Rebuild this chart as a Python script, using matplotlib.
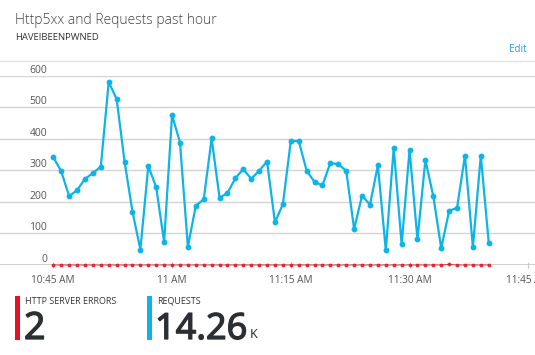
import matplotlib
matplotlib.use("Agg")
import matplotlib.pyplot as plt
import matplotlib.patheffects as pe
import numpy as np

plt.rcParams['font.family'] = ['Open Sans', 'DejaVu Sans']

# requests per minute, 10:45 AM .. 11:40 AM
requests = [342, 297, 218, 237, 273, 291, 312, 580, 526, 328,
            169, 49, 314, 246, 73, 476, 388, 58, 188, 208,
            401, 213, 228, 275, 304, 273, 299, 328, 135, 193,
            393, 393, 299, 263, 253, 324, 319, 299, 114, 220,
            191, 316, 47, 371, 65, 365, 81, 333, 218, 53,
            172, 181, 347, 56, 347, 71]
errors = [0] * 56
errors[50] = 2
minutes = np.arange(len(requests))

tick_minutes = [0, 15, 30, 45, 60]
tick_labels = ["10:45 AM", "11 AM", "11:15 AM", "11:30 AM", "11:45 AM"]
y_ticks = [0, 100, 200, 300, 400, 500, 600]

total_errors = "2"
total_requests = "14.26"

BLUE = "#0db4e8"
RED = "#e81123"
GRID = "#d4d4d4"
TXT = "#555555"

W, H = 535, 355
fig = plt.figure(figsize=(W / 100, H / 100), dpi=100)

# pixel helpers
def fx(px):
    return px / W

def fy(py):
    return 1 - py / H

ax = fig.add_axes([0, fy(265), 1, fy(75.7) - fy(265)])
px_per_min = (528.3 - 53.3) / 60
ax.set_xlim(-53.3 / px_per_min, (W - 53.3) / px_per_min)
ax.set_ylim(0, 600)
for s in ax.spines.values():
    s.set_visible(False)

# gridlines with the value label sitting just above each line
for v in y_ticks:
    ax.axhline(v, color="#c8c8c8" if v == 0 else GRID, lw=1.2 if v == 0 else 1, zorder=0)
    ax.text(fx(47), v, str(v), transform=ax.get_yaxis_transform(),
            ha="right", va="bottom", fontsize=7.5, color=TXT)

ax.set_yticks([])
ax.set_xticks(tick_minutes)
ax.set_xticklabels(tick_labels, fontsize=7.2, color=TXT)
ax.tick_params(axis="x", length=4, width=0.8, color="#c8c8c8", pad=5, direction="inout")

ax.plot(minutes, requests, color=BLUE, lw=1.6, marker="o", ms=3.2, zorder=3)
ax.plot(minutes, errors, color=RED, lw=0.7, marker="o", ms=1.8, zorder=4,
        clip_on=False, alpha=0.8)

# header
fig.text(fx(15), fy(20), "Http5xx and Requests past hour", fontsize=10,
         color="#444444", va="center", ha="left", fontweight="light")
fig.text(fx(15), fy(37.5), "HAVEIBEENPWNED", fontsize=6.8, color="#333333",
         va="center", ha="left")
fig.text(fx(527), fy(49), "Edit", fontsize=7, color="#1aa7e0",
         va="center", ha="right")
fig.add_artist(plt.Line2D([0, 1], [fy(60.5), fy(60.5)], color="#e2e2e2", lw=1))

# summary tiles (big numbers thickened a little with a stroke)
thick = [pe.withStroke(linewidth=0.9, foreground="#2b2f33")]
big = dict(family=["Noto Sans", "DejaVu Sans"], color="#2b2f33", va="baseline",
           ha="left", path_effects=thick)
fig.add_artist(plt.Rectangle((fx(15), fy(340)), fx(5), fy(296) - fy(340),
                             color=RED, lw=0))
fig.text(fx(25), fy(301), "HTTP SERVER ERRORS", fontsize=6.5, color="#333333",
         va="center", ha="left")
fig.text(fx(24), fy(339), total_errors, fontsize=27, **big)

fig.add_artist(plt.Rectangle((fx(147), fy(340)), fx(5), fy(296) - fy(340),
                             color=BLUE, lw=0))
fig.text(fx(157), fy(301), "REQUESTS", fontsize=6.5, color="#333333",
         va="center", ha="left")
fig.text(fx(155), fy(339), total_requests, fontsize=26, **big)
fig.text(fx(250), fy(338), "K", fontsize=9, family=["Noto Sans", "DejaVu Sans"],
         color="#2b2f33", va="baseline", ha="left")

fig.savefig("out.png", dpi=100, facecolor="white")
